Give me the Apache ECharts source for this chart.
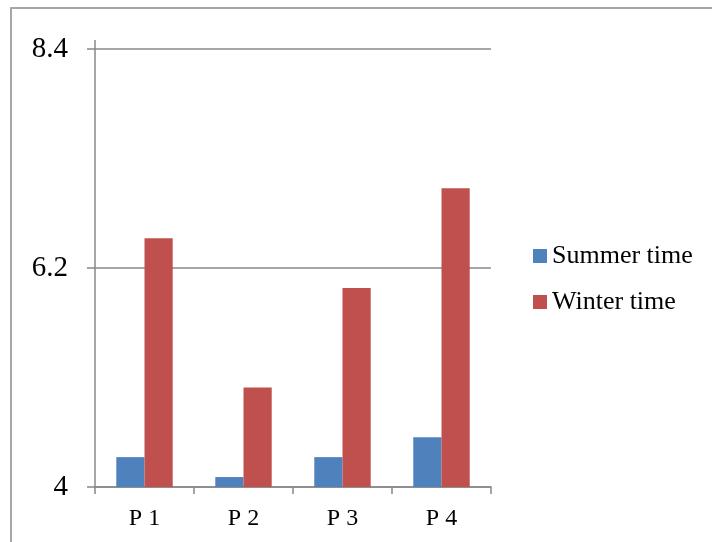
<!DOCTYPE html>
<html>
<head>
<meta charset="utf-8">
<script src="https://cdn.jsdelivr.net/npm/echarts@6/dist/echarts.min.js"></script>
<style>
  html, body { margin: 0; padding: 0; background: #fff; }
  #chart { width: 712px; height: 542px; }
</style>
</head>
<body>
<div id="chart"></div>
<script>
// Categories and the two measured series
const categories = ['P 1', 'P 2', 'P 3', 'P 4'];
const summerValues = [4.3, 4.1, 4.3, 4.5];
const winterValues = [6.5, 5.0, 6.0, 7.0];
const seriesNames = ['Summer time', 'Winter time'];
const yTicks = [4, 6.2, 8.4];

const serif = '"Liberation Serif", "Times New Roman", serif';
const axisGray = '#888888';

const chart = echarts.init(document.getElementById('chart'));
chart.setOption({
  animation: false,
  backgroundColor: '#ffffff',
  graphic: [
    {
      type: 'rect',
      shape: { x: 11, y: 8, width: 760, height: 600 },
      style: { fill: 'none', stroke: '#a6a6a6', lineWidth: 2 },
      silent: true
    },
    {
      type: 'line',
      shape: { x1: 95, y1: 40, x2: 95, y2: 49 },
      style: { stroke: axisGray, lineWidth: 1.5 },
      silent: true
    }
  ],
  legend: {
    orient: 'vertical',
    left: 533,
    top: 243,
    padding: 0,
    itemWidth: 14,
    itemHeight: 14,
    itemGap: 20,
    icon: 'rect',
    textStyle: { fontFamily: serif, fontSize: 26, lineHeight: 26, color: '#000' },
    data: seriesNames
  },
  grid: { left: 95, right: 221, top: 49, bottom: 55, containLabel: false },
  xAxis: {
    type: 'category',
    data: categories,
    axisLine: { show: true, lineStyle: { color: axisGray, width: 1.5 } },
    axisTick: { show: true, length: 7, lineStyle: { color: axisGray, width: 1.5 } },
    axisLabel: { fontFamily: serif, fontSize: 24, color: '#000', margin: 20 }
  },
  yAxis: {
    type: 'value',
    min: yTicks[0],
    max: yTicks[yTicks.length - 1],
    interval: 2.2,
    axisLine: { show: true, lineStyle: { color: axisGray, width: 1.5 } },
    axisTick: { show: true, length: 8, lineStyle: { color: axisGray, width: 1.5 } },
    splitLine: { show: true, lineStyle: { color: axisGray, width: 1.5 } },
    axisLabel: {
      fontFamily: serif, fontSize: 29, color: '#000', margin: 27,
      formatter: v => String(Math.round(v * 10) / 10)
    }
  },
  series: [
    {
      name: seriesNames[0],
      type: 'bar',
      data: summerValues,
      barGap: '0%',
      barCategoryGap: '43%',
      itemStyle: { color: '#4F81BD' }
    },
    {
      name: seriesNames[1],
      type: 'bar',
      data: winterValues,
      barGap: '0%',
      barCategoryGap: '43%',
      itemStyle: { color: '#C0504D' }
    }
  ]
});
</script>
</body>
</html>
